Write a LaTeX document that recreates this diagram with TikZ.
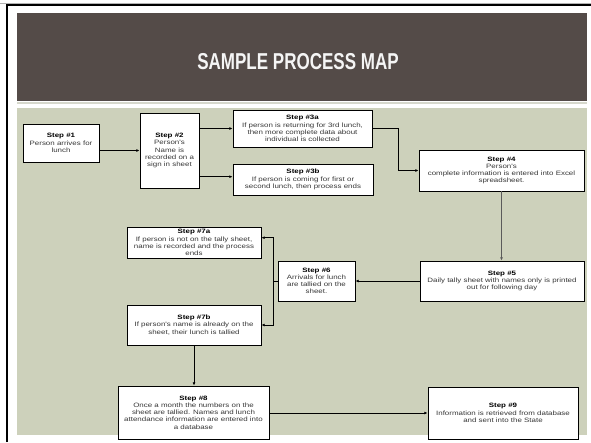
\documentclass[tikz,border=0pt]{standalone}
\usepackage{fontspec}
\setmainfont{Liberation Sans}
\newfontfamily\boxfont[FakeStretch=1.26]{Liberation Sans}
\newfontfamily\titlefont[FakeStretch=0.74]{Liberation Sans}
\usetikzlibrary{arrows.meta,shadows}
\definecolor{band}{RGB}{84,75,72}
\definecolor{sage}{RGB}{205,209,187}
\definecolor{sepline}{RGB}{214,216,204}
\definecolor{boxtext}{RGB}{55,55,55}
\definecolor{darkconn}{RGB}{90,90,90}
\begin{document}
\begin{tikzpicture}[x=1pt,y=-1pt,
  stepbox/.style={draw=black, line width=0.8pt, fill=white, inner sep=0pt, align=center,
    font=\boxfont\fontsize{6.3}{7.2}\selectfont, text=boxtext,
    drop shadow={shadow xshift=1.3pt, shadow yshift=-1.3pt, fill=black!50, opacity=0.6}},
  conn/.style={line width=0.8pt, draw=black, -{Latex[length=3.2pt,width=2.8pt]}},
  plain/.style={line width=0.8pt, draw=black}
]
\useasboundingbox (0,0) rectangle (591,442);
\fill[white] (0,0) rectangle (591,442);
% partial frame
\draw[gray!60, line width=0.7pt] (0,3.2) -- (591,3.2);
\draw[black, line width=2pt] (7,442) -- (7,5) -- (591,5);
% title band
\fill[band] (17,13) rectangle (587,100.7);
\fill[sepline] (17,102) rectangle (587,103.6);
\node[font=\titlefont\bfseries\fontsize{23}{23}\selectfont, text=white!96!black, anchor=base] (title) at (298,69.5) {SAMPLE PROCESS MAP};
% green area
\fill[sage] (17,108) rectangle (587,435);

% boxes
\node[stepbox, minimum width=76pt, minimum height=38pt] (b1) at (61,143)
  {\textcolor{black}{\textbf{Step \#1}}\\Person arrives for\\lunch};
\node[stepbox, minimum width=59pt, minimum height=75pt] (b2) at (169.5,150.5)
  {\textcolor{black}{\textbf{Step \#2}}\\Person's\\Name is\\recorded on a\\sign in sheet};
\node[stepbox, minimum width=139pt, minimum height=37pt] (b3a) at (302.5,128.5)
  {\textcolor{black}{\textbf{Step \#3a}}\\If person is returning for 3rd lunch,\\then more complete data about\\individual is collected};
\node[stepbox, minimum width=140pt, minimum height=31pt] (b3b) at (303,179.5)
  {\textcolor{black}{\textbf{Step \#3b}}\\If person is coming for first or\\second lunch, then process ends};
\node[stepbox, minimum width=165pt, minimum height=41pt] (b4) at (501.5,170.5)
  {\textcolor{black}{\textbf{Step \#4}}\\Person's\\complete information is entered into Excel\\spreadsheet.};
\node[stepbox, minimum width=164pt, minimum height=40pt] (b5) at (502,281)
  {\textcolor{black}{\textbf{Step \#5}}\\Daily tally sheet with names only is printed\\out for following day};
\node[stepbox, minimum width=77pt, minimum height=40pt] (b6) at (316.5,281)
  {\textcolor{black}{\textbf{Step \#6}}\\Arrivals for lunch\\are tallied on the\\sheet.};
\node[stepbox, minimum width=134pt, minimum height=31pt] (b7a) at (194,242.5)
  {\textcolor{black}{\textbf{Step \#7a}}\\If person is not on the tally sheet,\\name is recorded and the process\\ends};
\node[stepbox, minimum width=134pt, minimum height=40pt] (b7b) at (194,325)
  {\textcolor{black}{\textbf{Step \#7b}}\\If person's name is already on the\\sheet, their lunch is tallied};
\node[stepbox, minimum width=151pt, minimum height=53pt] (b8) at (193.5,412.5)
  {\textcolor{black}{\textbf{Step \#8}}\\Once a month the numbers on the\\sheet are tallied. Names and lunch\\attendance information are entered into\\a database};
\node[stepbox, minimum width=150pt, minimum height=52pt] (b9) at (503,413)
  {\textcolor{black}{\textbf{Step \#9}}\\Information is retrieved from database\\and sent into the State};

% connectors
\draw[conn] (b1.east |- b2.west) -- (b2.west);
\draw[conn] (b2.east |- b3a.west) -- (b3a.west);
\draw[conn] ([yshift=2.8pt]b2.east |- b3b.west) -- ([yshift=2.8pt]b3b.west);
\draw[conn] (b3a.east) -- ++(25.7,0) |- (b4.west);
\draw[conn, draw=darkconn, line width=1.3pt] (b4.south) -- (b4.south |- b5.north);
\draw[conn] (b5.west) -- (b6.east);
\coordinate (j6) at (273.3,281);
\draw[plain] (b6.west) -- (j6);
\draw[conn] (j6) |- ([yshift=4.8pt]b7a.east);
\draw[conn] (j6) |- (b7b.east);
\draw[conn] (b7b.south) -- (b7b.south |- b8.north);
\draw[conn] (b8.east |- b9.west) -- (b9.west);
\end{tikzpicture}
\end{document}
